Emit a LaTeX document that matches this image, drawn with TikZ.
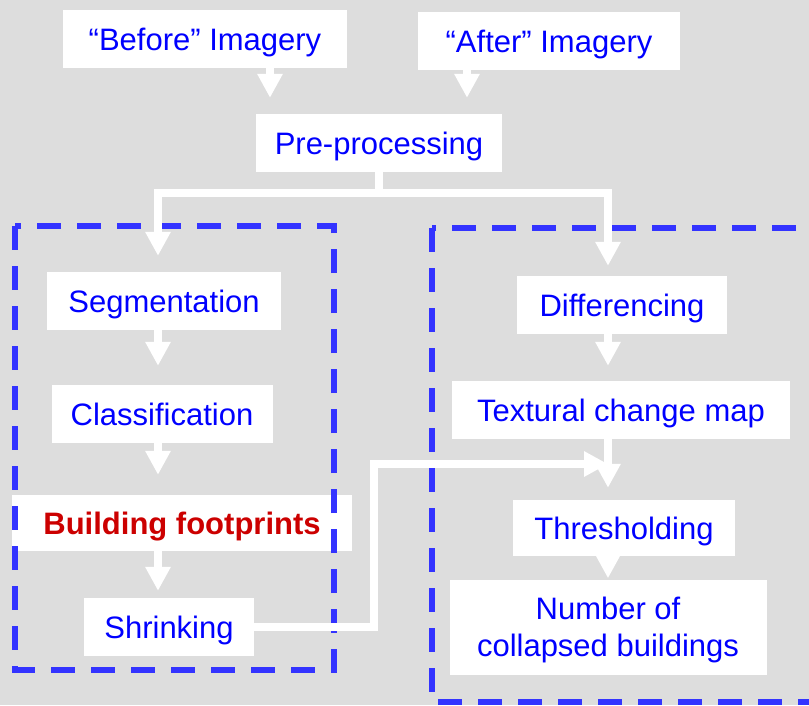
\documentclass[tikz,border=0pt]{standalone}
\usepackage{fontspec}
\setmainfont{Liberation Sans}
\usepackage{tikz}
\usetikzlibrary{arrows.meta}
\definecolor{bggray}{RGB}{221,221,221}
\definecolor{boxblue}{RGB}{51,51,255}
\definecolor{txtblue}{RGB}{0,0,255}
\definecolor{txtred}{RGB}{204,0,0}
\tikzstyle{stage}=[rectangle, fill=white, text=txtblue, inner sep=0pt,
                    minimum height=58pt, text height=22pt, text depth=0pt,
                    font=\fontsize{31}{37}\selectfont]
\tikzstyle{flow}=[draw=white, line width=8pt,
                    -{Triangle[length=24pt,width=24pt]}]
\tikzstyle{group}=[draw=boxblue, line width=6pt,
                    dash pattern=on 24pt off 16pt]

\begin{document}
\begin{tikzpicture}[x=1pt,y=-1pt]
    \path[use as bounding box, fill=bggray] (0,0) rectangle (809,705);
    \clip (0,0) rectangle (809,705);
    \node[stage, minimum width=284pt] (before) at (205,39) {“Before” Imagery};
    \node[stage, minimum width=262pt] (after) at (549,41) {“After” Imagery};
    \node[stage, minimum width=246pt] (pre) at (379,143) {Pre-processing};
    \node[stage, minimum width=234pt] (seg) at (164,301) {Segmentation};
    \node[stage, minimum width=221pt] (cls) at (162,414) {Classification};
    \node[stage, minimum width=340pt, minimum height=56pt, text=txtred,
      font=\fontsize{31}{37}\selectfont\bfseries] (bfp) at (182,523)
      {Building footprints};
    \node[stage, minimum width=170pt] (shr) at (169,627) {Shrinking};
    \node[stage, minimum width=210pt] (diff) at (622,305) {Differencing};
    \node[stage, minimum width=338pt] (tex) at (621,410) {Textural change map};
    \node[stage, minimum width=222pt, minimum height=56pt] (thr) at (624,528)
      {Thresholding};
    \node[stage, minimum width=317pt, minimum height=95pt, align=center,
      text height=58pt] (num) at (608,627)
      {Number of\\collapsed buildings};
    \coordinate (lcol) at (158,0);
    \coordinate (rcol) at (608,0);
    \coordinate (split) at (0,193);
    \coordinate (merge) at (608,464);
    \draw[group] (15,226) rectangle (334,670);
    \draw[group] (432,228) rectangle (840,702);
    \draw[flow, shorten >=16pt] ([xshift=65pt]before.south) --
      ([xshift=65pt]before.south |- pre.north);
    \draw[flow, shorten >=16pt] ([xshift=-82pt]after.south) --
      ([xshift=-82pt]after.south |- pre.north);
    \draw[flow, shorten >=16pt] (pre.south) -- (pre.south |- split) -|
      (seg.north -| lcol);
    \draw[flow, shorten >=10pt] (pre.south |- split) -| (diff.north -| rcol);
    \foreach \from/\to/\gap in {seg/cls/19, cls/bfp/20, bfp/shr/7}
      \draw[flow, shorten >=\gap pt] (\from.south -| lcol) -- (\to.north -| lcol);
    \foreach \from/\to/\gap in {diff/tex/15, tex/thr/12, thr/num/1}
      \draw[flow, shorten >=\gap pt] (\from.south -| rcol) -- (\to.north -| rcol);
    \draw[flow] (shr.east) -- ++(120,0) |- (merge);
\end{tikzpicture}
\end{document}
